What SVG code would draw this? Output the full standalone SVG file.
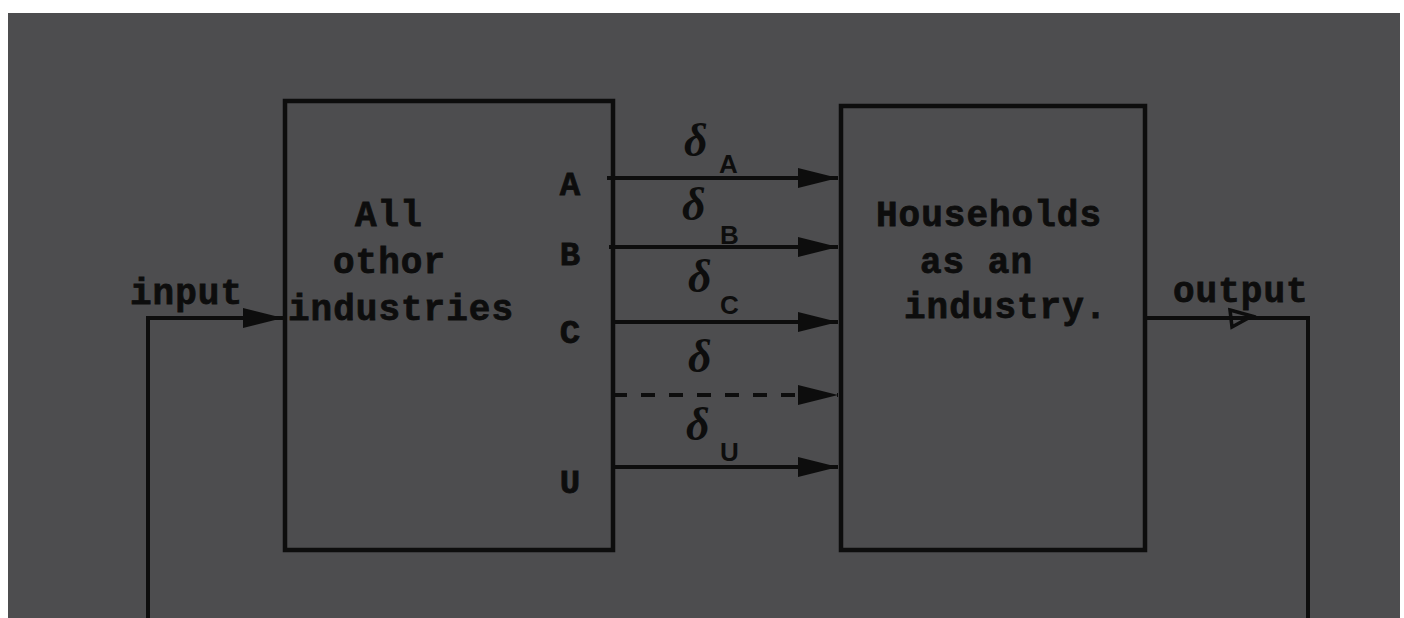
<svg xmlns="http://www.w3.org/2000/svg" width="1404" height="618" viewBox="0 0 1404 618">
  <style>
    .box { fill: none; stroke: #0d0d0d; stroke-width: 4.5; stroke-linejoin: miter; }
    .ln { fill: none; stroke: #0d0d0d; stroke-width: 4; }
    .dash { stroke-dasharray: 14 14; }
    .tw { font-family: "Liberation Mono", "DejaVu Sans Mono", monospace; font-weight: bold; font-size: 36px; fill: #0d0d0d; stroke: #0d0d0d; stroke-width: 0.8px; letter-spacing: 1px; }
    .port { font-family: "Liberation Mono", "DejaVu Sans Mono", monospace; font-weight: bold; font-size: 34px; fill: #0d0d0d; stroke: #0d0d0d; stroke-width: 0.8px; text-anchor: middle; }
    .dl { font-family: "Liberation Serif", "DejaVu Serif", serif; font-style: italic; font-weight: bold; font-size: 46px; fill: #0d0d0d; }
    .sub { font-family: "Liberation Sans", "DejaVu Sans", sans-serif; font-weight: bold; font-size: 26px; fill: #0d0d0d; }
  </style>
  <defs>
    <marker id="ah" markerUnits="userSpaceOnUse" markerWidth="44" markerHeight="24" refX="42" refY="12" orient="auto">
      <path d="M2,2 L42,12 L2,22 Z" fill="#0d0d0d"/>
    </marker>
  </defs>
  <rect x="0" y="0" width="1404" height="618" fill="#ffffff"/>
  <rect x="8" y="13" width="1392" height="605" fill="#4d4d4f"/>

  <g id="node-all-other-industries">
    <rect class="box" x="285" y="101" width="328" height="449"/>
    <text class="tw" x="355" y="226">All</text>
    <text class="tw" x="333" y="273">othor</text>
    <text class="tw" x="288" y="320">industries</text>
    <text class="port" x="570" y="195">A</text>
    <text class="port" x="570" y="265">B</text>
    <text class="port" x="570" y="343">C</text>
    <text class="port" x="570" y="493">U</text>
  </g>

  <g id="node-households">
    <rect class="box" x="841" y="106" width="304" height="444"/>
    <text class="tw" x="876" y="226">Households</text>
    <text class="tw" x="920" y="273">as an</text>
    <text class="tw" x="904" y="318">industry.</text>
  </g>

  <g id="connectors">
    <path class="ln" d="M148,618 L148,318 L283,318" marker-end="url(#ah)"/>
    <path class="ln" d="M607,178 L838,178" marker-end="url(#ah)"/>
    <path class="ln" d="M609,247 L838,247" marker-end="url(#ah)"/>
    <path class="ln" d="M611,322 L838,322" marker-end="url(#ah)"/>
    <path class="ln dash" d="M613,395 L838,395" marker-end="url(#ah)"/>
    <path class="ln" d="M611,467 L838,467" marker-end="url(#ah)"/>
    <path class="ln" d="M1145,318 L1308,318 L1308,618"/>
    <path d="M1230,310 L1252,316 L1232,327 Z" fill="none" stroke="#0d0d0d" stroke-width="3.5"/>
  </g>

  <g id="labels">
    <text class="tw" x="130" y="304">input</text>
    <text class="tw" x="1173" y="302">output</text>
    <text class="dl" x="684" y="156">δ</text><text class="sub" x="719" y="173">A</text>
    <text class="dl" x="682" y="220">δ</text><text class="sub" x="720" y="244">B</text>
    <text class="dl" x="688" y="292">δ</text><text class="sub" x="720" y="314">C</text>
    <text class="dl" x="688" y="372">δ</text>
    <text class="dl" x="686" y="440">δ</text><text class="sub" x="720" y="461">U</text>
  </g>
</svg>
